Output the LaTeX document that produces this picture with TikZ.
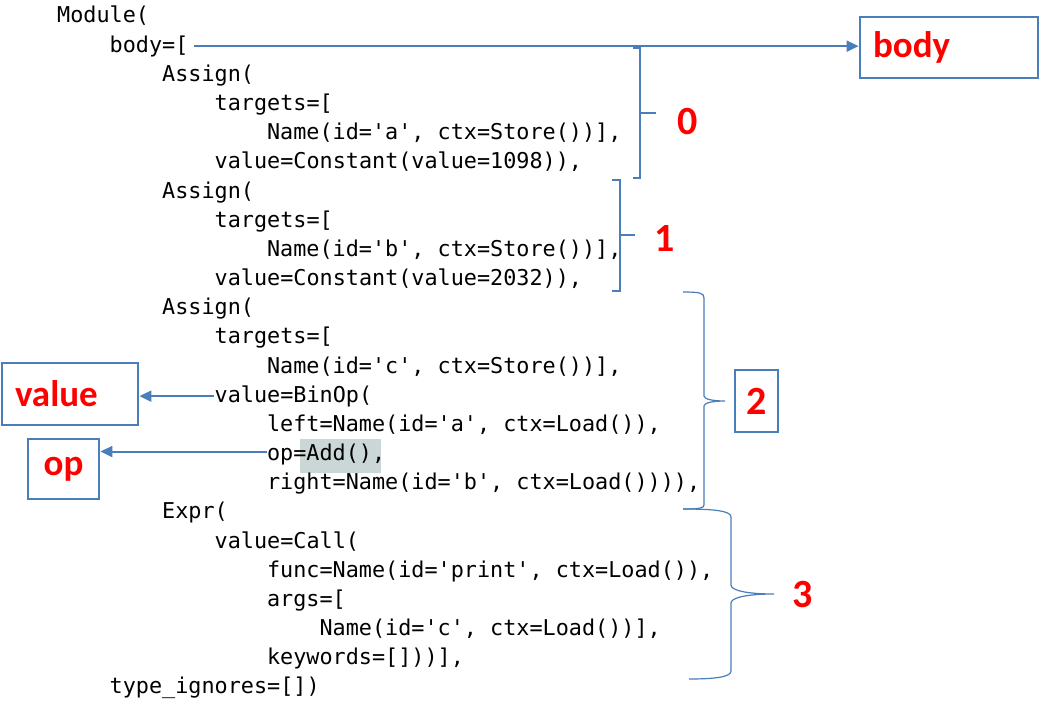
\documentclass[tikz,border=0pt]{standalone}
\usepackage{fontspec}
\setmonofont{DejaVu Sans Mono}
\newfontfamily\lblfont{Carlito}
\usepackage{xcolor}
\usetikzlibrary{arrows.meta,positioning}

\definecolor{boxblue}{RGB}{74,126,187}
\definecolor{lblred}{RGB}{255,0,0}
\definecolor{hlgrey}{RGB}{203,214,214}

\tikzset{
  codeline/.style={anchor=base west,inner sep=0pt,font=\fontsize{21.8}{26}\selectfont\ttfamily,text=black},
  arr/.style={-{Triangle[length=12pt,width=11pt]},draw=boxblue,line width=2pt},
  bracket/.style={draw=boxblue,line width=1.6pt},
  brace/.style={draw=boxblue,line width=1.2pt},
  lblbox/.style={draw=boxblue,line width=2.8pt,text=lblred,font=\fontsize{37}{40}\selectfont\lblfont\bfseries},
  idx/.style={text=lblred,inner sep=0pt,font=\fontsize{40}{42}\selectfont\lblfont\bfseries}
}

\begin{document}
\begin{tikzpicture}[x=1pt,y=-1pt]
   \useasboundingbox (0,0) rectangle (1041,706);

   % highlight behind Add()
   \fill[hlgrey] (300,439) rectangle (381,473);

   \foreach \ind/\txt [count=\n] in {
      0/{Module(},
      4/{body=[},
      8/{Assign(},
      12/{targets=[},
      16/{Name(id='a', ctx=Store())],},
      12/{value=Constant(value=1098)),},
      8/{Assign(},
      12/{targets=[},
      16/{Name(id='b', ctx=Store())],},
      12/{value=Constant(value=2032)),},
      8/{Assign(},
      12/{targets=[},
      16/{Name(id='c', ctx=Store())],},
      12/{value=BinOp(},
      16/{left=Name(id='a', ctx=Load()),},
      16/{op=Add(),},
      16/{right=Name(id='b', ctx=Load()))),},
      8/{Expr(},
      12/{value=Call(},
      16/{func=Name(id='print', ctx=Load()),},
      16/{args=[},
      20/{Name(id='c', ctx=Load())],},
      16/{keywords=[]))],},
      4/{type\_ignores=[])}}
      \node[codeline] (l\n) at ({57+\ind*13.12},{23+(\n-1)*29.17}) {\txt};

   % label boxes
   \node[lblbox,text width=152pt,align=left,inner xsep=13pt,minimum height=61pt] (body) at (949,47.5) {body};
   \node[lblbox,text width=110pt,align=left,inner xsep=13pt,minimum height=62pt] (value) at (70,394) {value};
   \node[lblbox,minimum width=71pt,minimum height=60pt] (op) at (63.5,469) {op};
   \node[lblbox,minimum width=43pt,minimum height=62pt,inner sep=0pt,font=\fontsize{40}{42}\selectfont\lblfont\bfseries] (two) at (756.5,401) {2};

   % arrows
   \draw[arr] ([xshift=5pt]l2.east) -- (l2.east -| body.west);
   \draw[arr] (l14.west) -- (l14.west -| value.east);
   \draw[arr] ([yshift=3pt]l16.west) -- ([yshift=3pt]l16.west -| op.east);

   % square brackets 0 and 1
   \draw[bracket] (633,48) -- (640,48) -- (640,178) -- (633,178);
   \draw[bracket] (640,113) -- (656,113);
   \node[idx] (n0) at (687.5,121.5) {0};
   \draw[bracket] (612,180) -- (620,180) -- (620,291) -- (612,291);
   \draw[bracket] (620,235) -- (635,235);
   \node[idx] (n1) at (664.5,238.5) {1};

   % curly braces 2 and 3
   \draw[brace] (683,292) .. controls (700,292) and (704,293) .. (704,298) -- (704,396)
      .. controls (704,399) and (712,401) .. (725,401)
      .. controls (712,401) and (704,403) .. (704,406) -- (704,505)
      .. controls (704,508) and (700,509) .. (683,509);
   \draw[brace] (683,509) .. controls (715,509) and (731,511) .. (731,517) -- (731,585)
      .. controls (731,590) and (745,594) .. (774,594)
      .. controls (745,594) and (731,598) .. (731,603) -- (731,671)
      .. controls (731,677) and (715,679) .. (689,679);
   \node[idx] (n3) at (803,595) {3};

\end{tikzpicture}
\end{document}
